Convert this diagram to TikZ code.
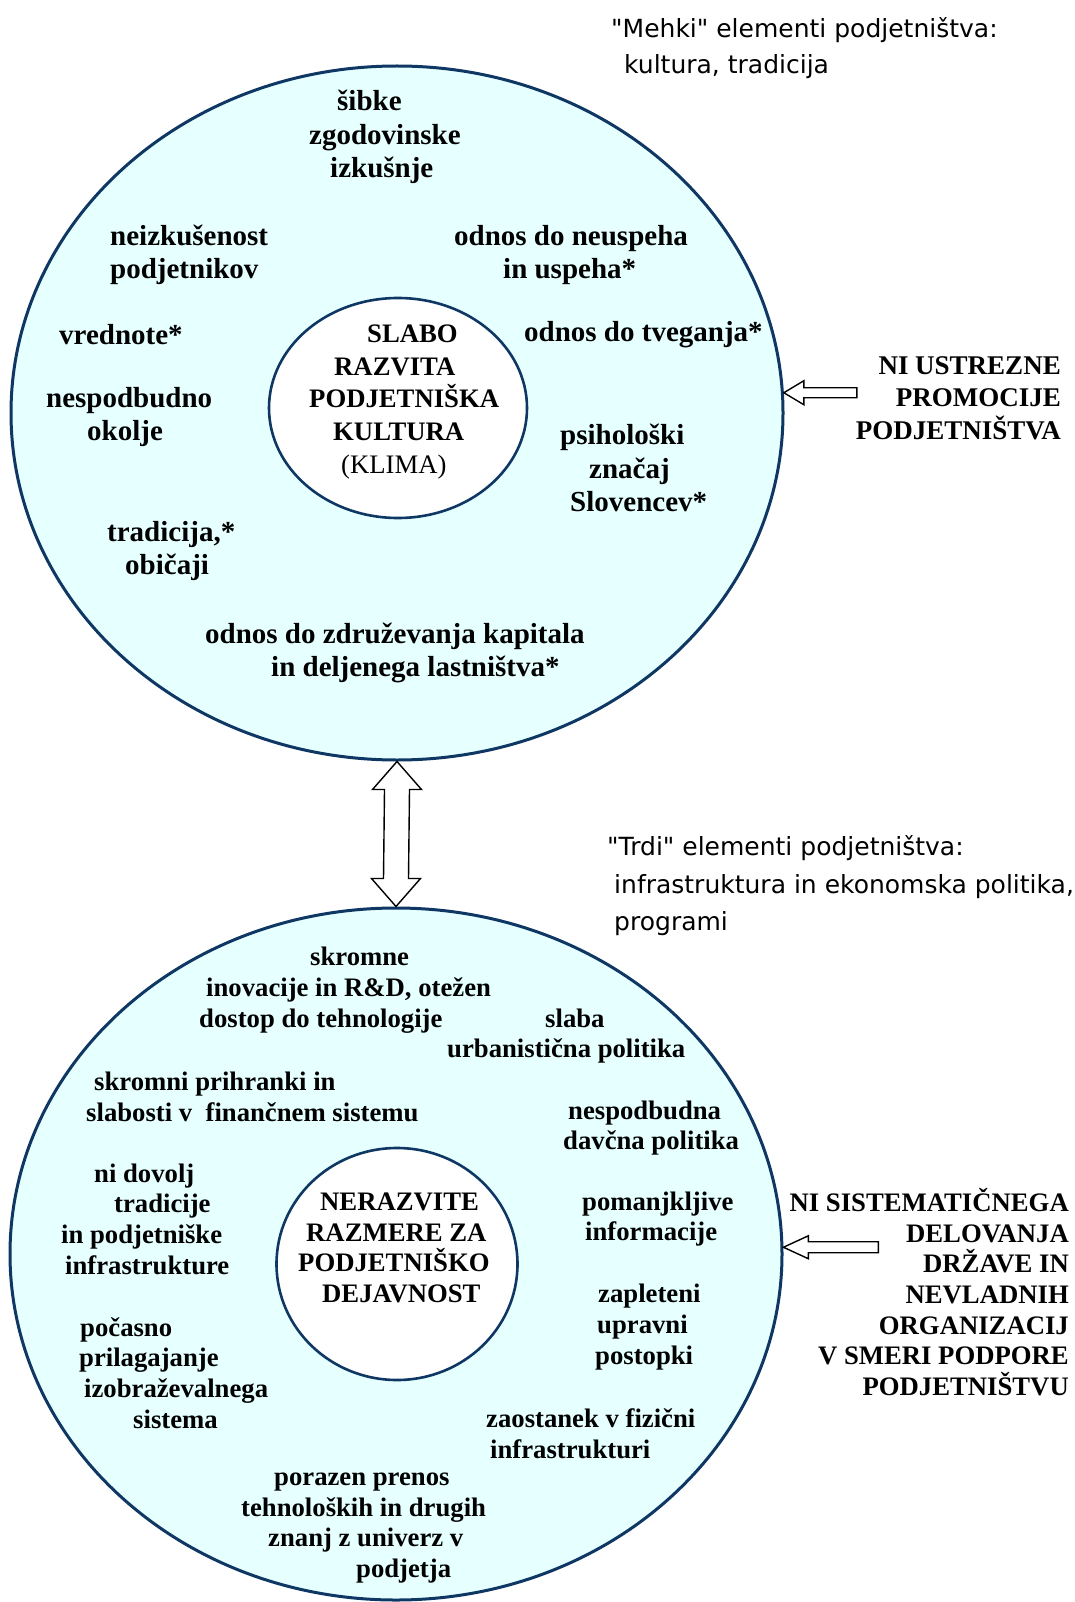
\documentclass[tikz,border=0pt]{standalone}
\usepackage{fontspec}
\setmainfont{Liberation Serif}
\newfontfamily\notefont{DejaVu Sans}
\usetikzlibrary{shapes.geometric,calc}
\definecolor{ringfill}{RGB}{230,255,255}
\definecolor{ringline}{RGB}{15,55,100}
\begin{document}
\begin{tikzpicture}[x=1pt,y=-1pt,
  ring/.style={draw=ringline,line width=3pt,fill=ringfill,ellipse,inner sep=0pt},
  core/.style={draw=ringline,line width=2.6pt,fill=white,ellipse,inner sep=0pt},
  item/.style={anchor=west,align=left,inner sep=0pt,font=\fontsize{29}{33.4}\selectfont\bfseries},
  itemlow/.style={item,font=\fontsize{26.7}{30.7}\selectfont\bfseries},
  coretext/.style={item,font=\fontsize{26.7}{32.8}\selectfont\bfseries},
  cause/.style={anchor=east,align=right,inner sep=0pt,font=\fontsize{27}{32.5}\selectfont\bfseries},
  causelow/.style={cause,font=\fontsize{26.7}{30.7}\selectfont\bfseries},
  note/.style={anchor=west,align=left,inner sep=0pt,font=\notefont\fontsize{25}{36}\selectfont},
  blockarrow/.style={draw=black,line width=1.4pt,fill=white,line join=miter}]
\fill[white] (0,0) rectangle (1075,1602);
\useasboundingbox (0,0) rectangle (1075,1602);

% the two rings and their cores
\node[ring,minimum width=772pt,minimum height=694pt] (top) at (397,413) {};
\node[core,minimum width=258pt,minimum height=220pt] (topcore) at (398,408) {};
\node[ring,minimum width=772pt,minimum height=692pt] (bot) at (396,1254) {};
\node[core,minimum width=241pt,minimum height=232pt] (botcore) at (397,1264) {};

% soft elements
\node[note] (soft) at (611,48) {"Mehki" elementi podjetništva:\\\hspace*{13pt}kultura, tradicija};
\node[item] (a1) at (309,137) {\hspace*{28pt}šibke\\zgodovinske\\\hspace*{21pt}izkušnje};
\node[item] (a2) at (110,255) {neizkušenost\\podjetnikov};
\node[item] (a3) at (454,255) {odnos do neuspeha\\\hspace*{49pt}in uspeha*};
\node[item] (a4) at (59,335) {vrednote*};
\node[item] (a5) at (524,335) {odnos do tveganja*};
\node[coretext] (a6) at (309,402) {\hspace*{58pt}SLABO\\\hspace*{25pt}RAZVITA\\PODJETNIŠKA\\\hspace*{24pt}KULTURA\\\hspace*{32pt}{\mdseries(KLIMA)}};
\node[item] (a7) at (46,417) {nespodbudno\\\hspace*{41pt}okolje};
\node[item] (a8) at (560,468) {psihološki\\\hspace*{29pt}značaj\\\hspace*{10pt}Slovencev*};
\node[item] (a9) at (107,551) {tradicija,*\\\hspace*{18pt}običaji};
\node[item] (a10) at (205,653) {odnos do združevanja kapitala\\\hspace*{66pt}in deljenega lastništva*};
\node[cause] (promo) at (1061,398) {NI USTREZNE\\PROMOCIJE\\PODJETNIŠTVA};

% hard elements
\node[note,font=\notefont\fontsize{25}{37.5}\selectfont] (hard) at (607,886) {"Trdi" elementi podjetništva:\\\hspace*{7pt}infrastruktura in ekonomska politika,\\\hspace*{7pt}programi};
\node[itemlow] (c1) at (199,990) {\hspace*{111pt}skromne\\\hspace*{7pt}inovacije in R\&D, otežen\\dostop do tehnologije};
\node[itemlow] (c2) at (447,1036) {\hspace*{98pt}slaba\\urbanistična politika};
\node[itemlow] (c3) at (86,1097) {\hspace*{8pt}skromni prihranki in\\slabosti v~ finančnem sistemu};
\node[itemlow] (c4) at (563,1128) {\hspace*{5pt}nespodbudna\\davčna politika};
\node[itemlow] (c5) at (61,1219) {\hspace*{33pt}ni dovolj\\\hspace*{53pt}tradicije\\in podjetniške\\\hspace*{4pt}infrastrukture};
\node[itemlow] (c6) at (298,1248) {\hspace*{22pt}NERAZVITE\\\hspace*{8pt}RAZMERE ZA\\PODJETNIŠKO\\\hspace*{24pt}DEJAVNOST};
\node[itemlow] (c7) at (582,1219) {pomanjkljive\\\hspace*{3pt}informacije};
\node[itemlow] (c8) at (595,1327) {\hspace*{3pt}zapleteni\\\hspace*{2pt}upravni\\postopki};
\node[itemlow] (c9) at (79,1373) {\hspace*{1pt}počasno\\prilagajanje\\\hspace*{5pt}izobraževalnega\\\hspace*{54pt}sistema};
\node[itemlow] (c10) at (486,1434) {zaostanek v fizični\\\hspace*{4pt}infrastrukturi};
\node[itemlow] (c11) at (241,1528) {\hspace*{33pt}porazen prenos\\tehnoloških in drugih\\\hspace*{27pt}znanj z univerz v\\\hspace*{115pt}podjetja};
\node[causelow] (state) at (1069,1292) {NI SISTEMATIČNEGA\\DELOVANJA\\DRŽAVE IN\\NEVLADNIH\\ORGANIZACIJ\\V SMERI PODPORE\\PODJETNIŠTVU};

% link between the two rings
\draw[blockarrow] (top.south) -- ++(24.5,28) -- ++(-12,0)
  -- ($(bot.north)+(12.5,-28)$) -- ++(12,0) -- (bot.north)
  -- ++(-24.5,-28) -- ++(12,0)
  -- ($(top.south)+(-12.5,28)$) -- ++(-12,0) -- cycle;

% outside influences
\coordinate (promotip) at (top.3.5);
\draw[blockarrow] (promotip) -- ++(20,-12) -- ++(0,7) -- ++(53,0) -- ++(0,10)
  -- ++(-53,0) -- ++(0,7) -- cycle;
\coordinate (statetip) at (bot.1);
\draw[blockarrow] (statetip) -- ++(25,-11.5) -- ++(0,6) -- ++(70,0) -- ++(0,11)
  -- ++(-70,0) -- ++(0,6) -- cycle;
\end{tikzpicture}
\end{document}
